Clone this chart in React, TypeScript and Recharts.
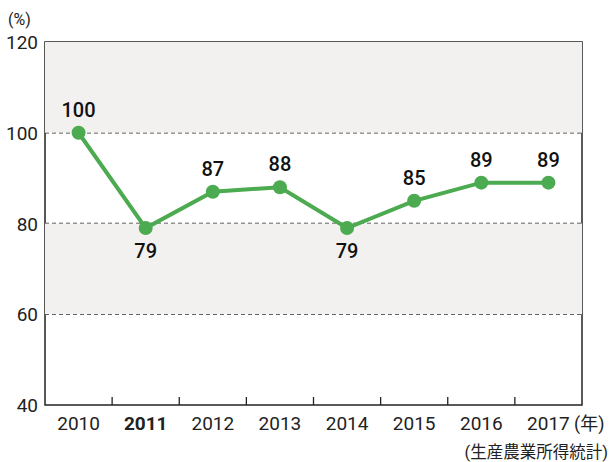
import { CartesianGrid, LabelList, Line, LineChart, ReferenceArea, XAxis, YAxis } from 'recharts'

const YEARS = ['2010', '2011', '2012', '2013', '2014', '2015', '2016', '2017']
const INDEX = [100, 79, 87, 88, 79, 85, 89, 89]
const LABEL_BELOW = ['2011', '2014']
const BOLD_YEARS = ['2011']
const Y_TICKS = [40, 60, 80, 100, 120]
const SHADED = [[100, 120], [60, 80]]

const W = 611
const H = 462
const M = { top: 42, right: 29, bottom: 0, left: 0 }
const Y_W = 45
const X_H = 57
const BAND = (W - M.right - Y_W) / YEARS.length

const GREEN = '#4caa50'
const FONT = 'Roboto, "Noto Sans CJK JP", sans-serif'

const data = YEARS.map((year, i) => ({ year, value: INDEX[i] }))

function XTick({ x, y, payload, index }: any) {
  const bold = BOLD_YEARS.includes(payload.value)
  return (
    <g>
      {index < YEARS.length - 1 && (
        <line x1={x + BAND / 2} x2={x + BAND / 2} y1={y} y2={y - 8} stroke="#222" strokeWidth={1.3} />
      )}
      <text x={x} y={y + 25} textAnchor="middle" fontSize={19} fontFamily={FONT}
        fontWeight={bold ? 700 : 400} fill="#222">
        {payload.value}
      </text>
    </g>
  )
}

function YTick({ x, y, payload }: any) {
  return (
    <text x={x} y={y + 7} textAnchor="end" fontSize={19} fontFamily={FONT} fill="#222">
      {payload.value}
    </text>
  )
}

function PointLabel({ x, y, value, index }: any) {
  const below = LABEL_BELOW.includes(YEARS[index])
  return (
    <text x={x} y={below ? y + 30 : y - 16} textAnchor="middle" fontSize={20}
      fontWeight={500} fontFamily={FONT} fill="#111">
      {value}
    </text>
  )
}

export default function App() {
  const plotRight = W - M.right
  const plotBottom = H - X_H
  return (
    <div style={{ position: 'absolute', left: 0, top: 0, width: W, height: H, background: '#fff' }}>
      <LineChart width={W} height={H} data={data} margin={M}>
        {SHADED.map(([a, b]) => (
          <ReferenceArea key={a} y1={a} y2={b} fill="#f2f1f0" fillOpacity={1} stroke="none" ifOverflow="hidden" />
        ))}
        <CartesianGrid vertical={false} stroke="#333" strokeOpacity={1} strokeDasharray="4 3" strokeWidth={1.3}
          horizontalValues={[60, 80, 100]} />
        <XAxis dataKey="year" scale="band" height={X_H} tickSize={0} tickMargin={0}
          axisLine={false} tickLine={false} tick={<XTick />} interval={0} />
        <YAxis domain={[40, 120]} ticks={Y_TICKS} width={Y_W} tickSize={0} tickMargin={7}
          axisLine={false} tickLine={false} tick={<YTick />} allowDataOverflow />
        <Line dataKey="value" stroke={GREEN} strokeWidth={4} isAnimationActive={false}
          dot={{ r: 7, fill: GREEN, stroke: GREEN, strokeWidth: 0 }} activeDot={false}>
          <LabelList dataKey="value" content={<PointLabel />} />
        </Line>
        <rect x={Y_W} y={M.top} width={plotRight - Y_W} height={plotBottom - M.top}
          fill="none" stroke="#222" strokeWidth={1.5} />
        <text x={8} y={25} fontSize={16} fontFamily={FONT} fill="#222">(%)</text>
        <text x={574} y={430} fontSize={18} fontFamily={FONT} fill="#222">(年)</text>
        <text x={608} y={458} textAnchor="end" fontSize={16.5} fontFamily={FONT} fill="#222">(生産農業所得統計)</text>
      </LineChart>
    </div>
  )
}
